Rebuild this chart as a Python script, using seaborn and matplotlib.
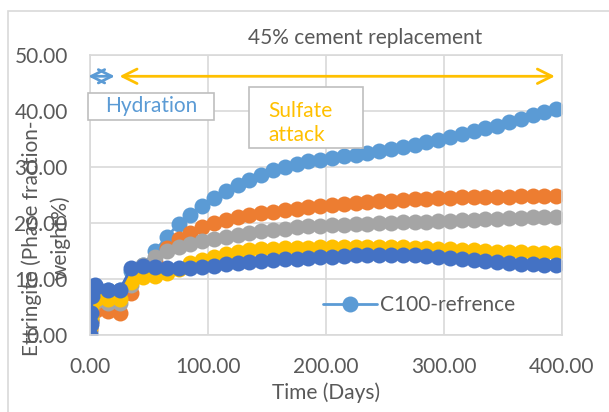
import numpy as np
import pandas as pd
import matplotlib
matplotlib.use("Agg")
import matplotlib.pyplot as plt
from matplotlib.patches import Rectangle
import seaborn as sns

# time points (days)
days = [0, 0.5, 1, 2, 3, 4,
        5, 15, 25, 35, 45, 55, 65, 75, 85, 95, 105, 115, 125, 135, 145, 155,
        165, 175, 185, 195, 205, 215, 225, 235, 245, 255, 265, 275, 285, 295,
        305, 315, 325, 335, 345, 355, 365, 375, 385, 395]

series_names = ["C100-refrence", "Mix-2", "Mix-3", "Mix-4", "Mix-5"]

c100 = [0.5, 2.5, 5.0, 7.0, 8.0, 8.2,
        8.0, 8.0, 8.0, 11.5, 12.5, 15.0, 17.5, 19.8, 21.5, 23.0, 24.5, 25.8, 26.8, 27.7, 28.6, 29.4,
        30.0, 30.6, 31.0, 31.3, 31.6, 31.9, 32.2, 32.5, 32.9, 33.2, 33.6, 34.0, 34.4, 34.8,
        35.3, 35.9, 36.4, 36.9, 37.4, 38.0, 38.6, 39.2, 39.8, 40.3]
mix2 = [1.0, 2.5, 4.0, 5.0, 5.0, 4.8,
        4.5, 4.2, 4.0, 7.5, 11.0, 13.0, 15.5, 17.2, 18.3, 19.2, 20.0, 20.6, 21.0, 21.4, 21.7, 22.0,
        22.3, 22.5, 22.8, 23.0, 23.2, 23.4, 23.6, 23.8, 23.9, 24.0, 24.1, 24.2, 24.3, 24.4,
        24.5, 24.6, 24.6, 24.7, 24.7, 24.7, 24.8, 24.8, 24.8, 24.8]
mix3 = [1.5, 3.0, 5.0, 6.0, 6.2, 6.0,
        6.0, 5.8, 5.8, 9.0, 12.5, 14.0, 15.0, 15.8, 16.3, 16.7, 17.1, 17.5, 17.9, 18.2, 18.5, 18.8,
        19.0, 19.2, 19.4, 19.5, 19.6, 19.7, 19.8, 19.9, 20.0, 20.0, 20.1, 20.2, 20.2, 20.3,
        20.4, 20.5, 20.6, 20.7, 20.8, 20.9, 20.9, 21.0, 21.0, 21.0]
mix4 = [1.5, 3.0, 5.0, 6.5, 7.0, 7.0,
        6.5, 6.5, 6.5, 9.5, 10.3, 10.6, 11.0, 11.8, 12.8, 13.4, 14.0, 14.5, 14.8, 15.1, 15.3, 15.4,
        15.5, 15.6, 15.6, 15.7, 15.7, 15.8, 15.8, 15.8, 15.8, 15.7, 15.7, 15.6, 15.5, 15.4,
        15.3, 15.2, 15.1, 15.0, 14.9, 14.8, 14.8, 14.7, 14.7, 14.7]
mix5 = [0.0, 2.0, 4.0, 7.0, 8.8, 9.0,
        8.5, 8.0, 8.0, 12.0, 12.3, 12.2, 12.0, 12.0, 12.0, 12.2, 12.4, 12.6, 12.8, 13.0, 13.2, 13.4,
        13.5, 13.6, 13.8, 13.9, 14.0, 14.1, 14.2, 14.2, 14.3, 14.3, 14.3, 14.2, 14.1, 14.0,
        13.8, 13.6, 13.4, 13.2, 13.0, 12.8, 12.7, 12.6, 12.5, 12.5]

colors = ["#5B9BD5", "#ED7D31", "#A5A5A5", "#FFC000", "#4472C4"]

df = pd.concat([pd.DataFrame({"Time": days, "Ettringite": v, "Series": n})
                for n, v in zip(series_names, [c100, mix2, mix3, mix4, mix5])])

sns.set_style("white")
plt.rcParams['font.family'] = ['Lato', 'DejaVu Sans']
txt = "#595959"
grid_c = "#D9D9D9"

fig = plt.figure(figsize=(6.09, 4.12), dpi=100)
ax = fig.add_axes([90/609, 1-335/412, (562-90)/609, (335-55)/412])

sns.lineplot(data=df, x="Time", y="Ettringite", hue="Series", hue_order=series_names,
             palette=colors, marker="o", markersize=11.5, markeredgewidth=0,
             linewidth=2, sort=False, legend=False, ax=ax)

ax.set_xlim(0, 400)
ax.set_ylim(0, 50)
ax.set_xticks([0, 100, 200, 300, 400])
ax.set_yticks([0, 10, 20, 30, 40, 50])
ax.set_xticklabels([f"{v:.2f}" for v in [0, 100, 200, 300, 400]])
ax.set_yticklabels([f"{v:.2f}" for v in [0, 10, 20, 30, 40, 50]])
ax.tick_params(colors=txt, labelsize=15, length=0, pad=16)
ax.grid(True, color=grid_c, linewidth=1.2)
ax.set_axisbelow(True)
for s in ax.spines.values():
    s.set_color(grid_c)
    s.set_linewidth(1.2)
ax.set_xlabel("Time (Days)", color=txt, fontsize=15, labelpad=4)
ax.set_ylabel("")

# y label (two lines, placed like the original)
fig.text(32/609, 1-238/412, "Ettringite (Phase fraction-", rotation=90,
         ha="center", va="center", color=txt, fontsize=15)
fig.text(60/609, 1-238/412, "weight%)", rotation=90,
         ha="center", va="center", color=txt, fontsize=15)

fig.text(365/609, 1-38/412, "45% cement replacement", ha="center", va="center",
         color=txt, fontsize=15)

# phase arrows
ax.annotate("", xy=(-1.5, 46.2), xytext=(21, 46.2),
            arrowprops=dict(arrowstyle="<->", color="#5B9BD5", lw=2,
                            mutation_scale=24, shrinkA=0, shrinkB=0),
            annotation_clip=False)
ax.annotate("", xy=(25, 46.2), xytext=(394, 46.2),
            arrowprops=dict(arrowstyle="<->", color="#FFC000", lw=2,
                            mutation_scale=26, shrinkA=0, shrinkB=0))

# text boxes
fig.patches.append(Rectangle((88/609, 1-120/412), (214-88)/609, 27/412,
                             transform=fig.transFigure, facecolor="white",
                             edgecolor="#BFBFBF", linewidth=1.2, zorder=5))
fig.text(151/609, 1-106/412, "Hydration", ha="center", va="center",
         color="#5B9BD5", fontsize=15, zorder=6)
fig.patches.append(Rectangle((249/609, 1-148/412), (363-249)/609, 61/412,
                             transform=fig.transFigure, facecolor="white",
                             edgecolor="#BFBFBF", linewidth=1.2, zorder=5))
fig.text(268/609, 1-123/412, "Sulfate\nattack", ha="left", va="center",
         color="#FFC000", fontsize=15, linespacing=1.25, zorder=6)

# chart border
fig.patches.append(Rectangle((8/609, -0.05), 1.1, (1-11/412)+0.05,
                             transform=fig.transFigure, facecolor="none",
                             edgecolor="#D9D9D9", linewidth=1.2))

# legend with first series only
ax.legend(handles=[ax.lines[0]], labels=[series_names[0]], loc="center left",
          bbox_to_anchor=(323/609, 1-305/412), bbox_transform=fig.transFigure,
          frameon=False, fontsize=15, handlelength=2.6, handletextpad=0.15,
          borderpad=0, borderaxespad=0, labelcolor=txt)

fig.savefig("out.png", dpi=100)
